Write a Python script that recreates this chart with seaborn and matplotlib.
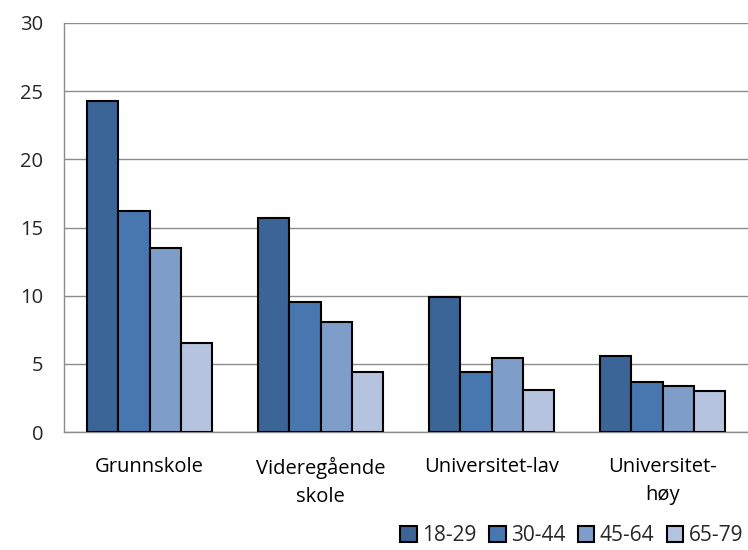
import matplotlib
matplotlib.use("Agg")
import matplotlib.pyplot as plt
import seaborn as sns
import pandas as pd
import numpy as np

categories = ["Grunnskole", "Videregående\nskole", "Universitet-lav", "Universitet-\nhøy"]
groups = ["18-29", "30-44", "45-64", "65-79"]
v_18_29 = [24.3, 15.7, 9.9, 5.6]
v_30_44 = [16.2, 9.5, 4.4, 3.7]
v_45_64 = [13.5, 8.1, 5.4, 3.4]
v_65_79 = [6.5, 4.4, 3.1, 3.0]
colors = ["#3B6596", "#4877AF", "#7F9DC9", "#B5C3DF"]

rows = []
for g, vals in zip(groups, [v_18_29, v_30_44, v_45_64, v_65_79]):
    for c, v in zip(categories, vals):
        rows.append({"kategori": c, "alder": g, "verdi": v})
df = pd.DataFrame(rows)

sns.set_style("white")
plt.rcParams['font.family'] = ['Open Sans', 'DejaVu Sans']

fig = plt.figure(figsize=(7.48, 5.5), dpi=100)
ax = fig.add_axes([64/748, 118/550, 684/748, 409/550])

sns.barplot(data=df, x="kategori", y="verdi", hue="alder", palette=colors,
            order=categories, hue_order=groups, width=0.73,
            edgecolor="black", linewidth=1.5, saturation=1, ax=ax, zorder=3)

ax.set_ylim(0, 30)
ax.set_xlim(-0.5, 3.5)
ax.set_yticks(np.arange(0, 31, 5))
ax.yaxis.grid(True, color="#8c8c8c", linewidth=1, zorder=0)
ax.set_axisbelow(True)

ax.set_xticks(np.arange(-0.5, 4, 1), minor=True)
ax.tick_params(axis="x", which="major", length=0, pad=18, labelsize=14.5, colors="black")
for lbl in ax.get_xticklabels():
    lbl.set_linespacing(1.55)
ax.tick_params(axis="x", which="minor", length=8, width=1, color="#8c8c8c", direction="out")
ax.tick_params(axis="y", length=5, width=1, color="#8c8c8c", labelsize=14.5, pad=10)

for s in ["top", "right"]:
    ax.spines[s].set_visible(False)
for s in ["left", "bottom"]:
    ax.spines[s].set_color("#8c8c8c")
    ax.spines[s].set_linewidth(1)

ax.set_xlabel("")
ax.set_ylabel("")

handles, labels = ax.get_legend_handles_labels()
ax.legend(handles, labels, ncol=4, loc="lower right", bbox_to_anchor=(1.005, -0.3),
          frameon=False, fontsize=15, handlelength=0.8, handleheight=0.8,
          handletextpad=0.25, columnspacing=0.6, borderaxespad=0)

fig.savefig("out.png", dpi=100)
